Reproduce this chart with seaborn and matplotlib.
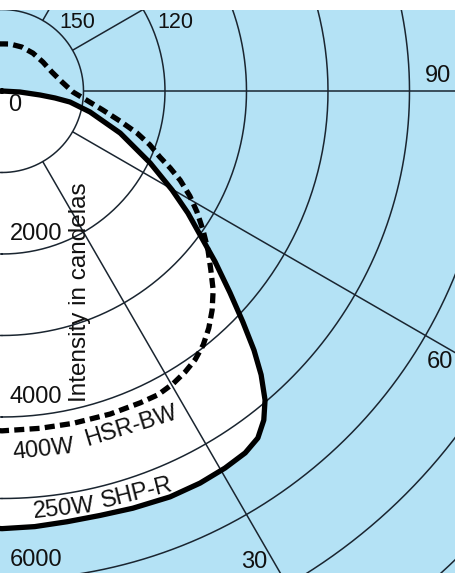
import numpy as np
import pandas as pd
import matplotlib
matplotlib.use("Agg")
import matplotlib.pyplot as plt
import seaborn as sns

# -----------------------------
# DATA (angle from nadir in degrees, intensity in candelas)
# -----------------------------
shp_angle = [0, 4.3, 8.6, 13, 17.4, 22.5, 26.8, 30.6, 33.9, 36.4, 38.5, 40.4, 42.4,
             44.2, 46.2, 48.5, 51.3, 54, 56.7, 59.8, 64.1, 70.4, 76.6, 80.8, 82.5,
             84, 86.8, 90]
shp_cd = [5370, 5360, 5345, 5345, 5365, 5390, 5390, 5375, 5350, 5290, 5160, 4980,
          4715, 4435, 4095, 3735, 3350, 3005, 2730, 2415, 2020, 1540, 1110, 845, 655,
          470, 220, 0]

hsr_angle = [0, 6.4, 12.1, 18.5, 23.9, 27.2, 30.3, 33.1, 35.7, 38.4, 41.1, 43.8,
             46.7, 49.4, 52.3, 55.3, 58.2, 60.8, 63.4, 65.4, 67.3, 70, 72.7, 75.7,
             79.3, 83.4, 89.2, 98.5, 110.8, 125.3, 140.8, 155.6, 170.3, 180]
hsr_cd = [4170, 4165, 4170, 4180, 4185, 4190, 4160, 4115, 4060, 3975, 3860, 3725,
          3560, 3375, 3195, 3000, 2815, 2640, 2445, 2270, 2100, 1930, 1735, 1495,
          1260, 1060, 870, 745, 655, 615, 600, 592, 585, 578]

grid_rings = [1000, 2000, 3000, 4000, 5000, 6000, 7000, 8000]
grid_angles = [30, 60, 90, 120, 150]
ring_labels = [2000, 4000, 6000]

BLUE = "#b4e2f5"
INK = "#1a2530"

# pixel -> data helper (centre of the diagram sits at pixel 2, 91; 81.5 px per 1000 cd)
CX, CY, SCALE = 2, 91, 81.5


def px(x, y):
    return (x - CX) / SCALE * 1000, (CY - y) / SCALE * 1000


def to_xy(angle, cd):
    # mirror the half-diagram about the nadir so the curve runs past the left edge
    a = np.asarray(angle, dtype=float)
    r = np.asarray(cd, dtype=float)
    a = np.concatenate([-a[::-1], a[1:]])
    r = np.concatenate([r[::-1], r[1:]])
    t = np.radians(a)
    return pd.DataFrame({"x": r * np.sin(t), "y": -r * np.cos(t)})


shp = to_xy(shp_angle, shp_cd)
hsr = to_xy(hsr_angle, hsr_cd)

# -----------------------------
# FIGURE
# -----------------------------
sns.set_theme(style="white")
plt.rcParams["font.family"] = ["Liberation Sans", "DejaVu Sans"]

fig = plt.figure(figsize=(4.55, 5.73), dpi=100)
fig.patch.set_facecolor("white")
ax = fig.add_axes([0, 0, 1, 563 / 573])
ax.set_facecolor(BLUE)

x0, y1 = px(0, 10)
x1, y0 = px(455, 573)
ax.set_xlim(x0, x1)
ax.set_ylim(y0, y1)
ax.set_xticks([])
ax.set_yticks([])
for s in ax.spines.values():
    s.set_visible(False)

# white area inside the 250W curve
ax.fill(shp["x"], shp["y"], color="white", zorder=1)

# grid rings and radial lines
phi = np.linspace(0, 2 * np.pi, 600)
for rr in grid_rings:
    ax.plot(rr * np.sin(phi), -rr * np.cos(phi), color=INK, lw=1.1, zorder=2)
for a in grid_angles:
    t = np.radians(a)
    ax.plot([1000 * np.sin(t), 9000 * np.sin(t)],
            [-1000 * np.cos(t), -9000 * np.cos(t)], color=INK, lw=1.1, zorder=2)

# curves
sns.lineplot(data=shp, x="x", y="y", sort=False, estimator=None, ax=ax,
             color="black", lw=3.8, legend=False, zorder=4)
sns.lineplot(data=hsr, x="x", y="y", sort=False, estimator=None, ax=ax,
             color="black", lw=3.8, linestyle=(0, (1.9, 1.0)), legend=False, zorder=4)
ax.set_xlabel("")
ax.set_ylabel("")

# -----------------------------
# TEXT
# -----------------------------
tk = dict(fontsize=17, color="#111111", ha="center", va="center", zorder=5)

ax.text(*px(15, 105), "0", **tk)
for rv in ring_labels:
    ax.text(px(36, 0)[0], -rv + 240, f"{rv}", **tk)

angle_pos = {"150": (77, 22), "120": (175, 22), "90": (438, 76),
             "60": (440, 362), "30": (254, 562)}
for lab, (ux, uy) in angle_pos.items():
    size = 15.5 if lab in ("150", "120") else 17
    ax.text(*px(ux, uy), lab, **{**tk, "fontsize": size})

ax.text(*px(44, 450), "400W", rotation=6, rotation_mode="anchor", **tk)
ax.text(*px(131, 426), "HSR-BW", rotation=17, rotation_mode="anchor", **tk)
ax.text(*px(64, 509), "250W", rotation=6, rotation_mode="anchor", **tk)
ax.text(*px(137, 493), "SHP-R", rotation=14, rotation_mode="anchor", **tk)

ax.text(*px(80, 292), "Intensity in candelas", rotation=90,
        **{**tk, "fontsize": 17.5})

fig.savefig("out.png", dpi=100, facecolor="white")
